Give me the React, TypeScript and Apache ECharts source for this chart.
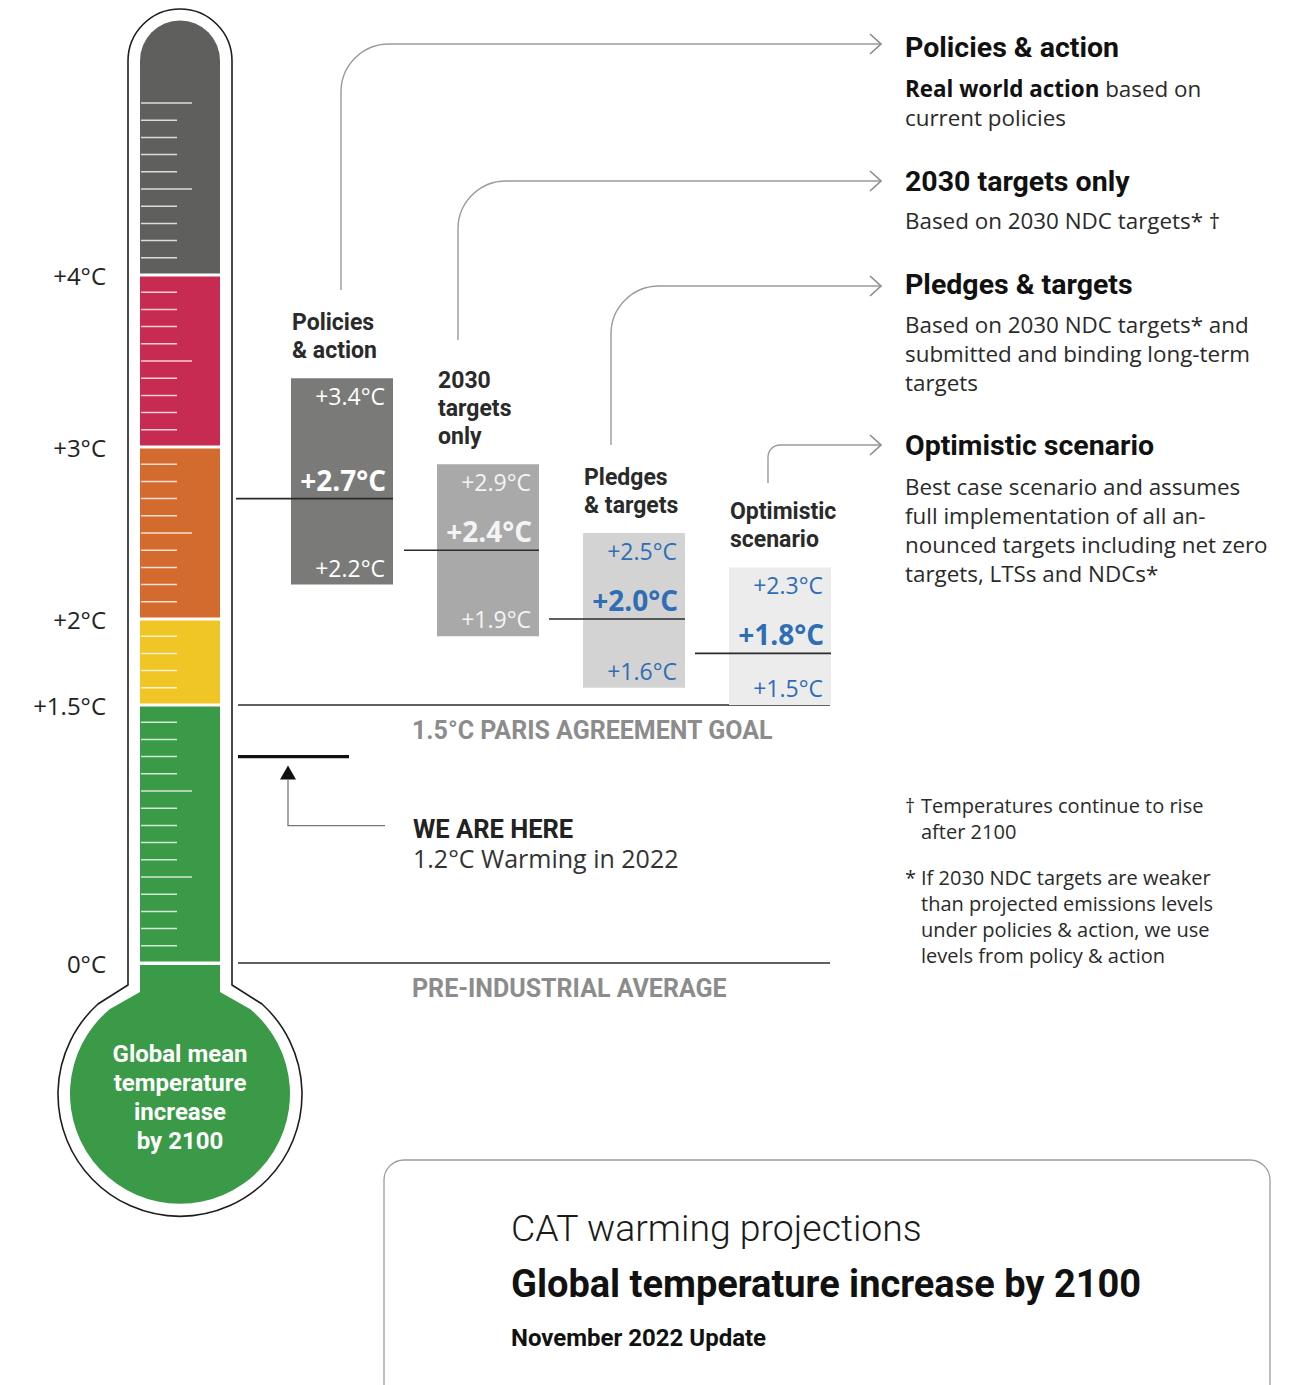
import React, { useEffect, useRef } from "react";
import * as echarts from "echarts";

// ---------------- data ----------------
const scenarioHeadings = ["Policies\n& action", "2030\ntargets\nonly", "Pledges\n& targets", "Optimistic\nscenario"];
const highValues = [3.4, 2.9, 2.5, 2.3];
const medianValues = [2.7, 2.4, 2.0, 1.8];
const lowValues = [2.2, 1.9, 1.6, 1.5];
const zoneLower = [0, 1.5, 2, 3, 4];
const zoneUpper = [1.5, 2, 3, 4, 5.48];
const axisLabelValues = [0, 1.5, 2, 3, 4];
const referenceValues = [1.5, 0];
const referenceLabels = ["1.5°C PARIS AGREEMENT GOAL", "PRE-INDUSTRIAL AVERAGE"];
const currentWarming = [1.2];
const currentYear = 2022;
const legendTitles = ["Policies & action", "2030 targets only", "Pledges & targets", "Optimistic scenario"];
const legendBodies = [
  "{b|Real world action} based on\ncurrent policies",
  "Based on 2030 NDC targets* †",
  "Based on 2030 NDC targets* and\nsubmitted and binding long-term\ntargets",
  "Best case scenario and assumes\nfull implementation of all an-\nnounced targets including net zero\ntargets, LTSs and NDCs*",
];
const footnoteMarks = ["†", "*"];
const footnoteTexts = [
  "Temperatures continue to rise\nafter 2100",
  "If 2030 NDC targets are weaker\nthan projected emissions levels\nunder policies & action, we use\nlevels from policy & action",
];
const bulbText = "Global mean\ntemperature\nincrease\nby 2100";
const titleLines = ["CAT warming projections", "Global temperature increase by 2100", "November 2022 Update"];

// ---------------- layout / style ----------------
const W = 1298;
const H = 1385;
const Y0 = 963;
const PX = 172;
const YMAX = 5.48;
const GRID_TOP = Y0 - YMAX * PX;
const GRID_LEFT = 114;
const BOX_LEFT = [291, 437, 583, 729];
const BOX_W = 102;
const LINE_START = [236, 404, 549, 695];
const BOX_COLORS = ["#7a7a79", "#a9a9a9", "#d3d3d3", "#ececec"];
const BOX_TEXT = ["#ffffff", "#f4f4f4", "#2f6db5", "#2f6db5"];
const ZONE_COLORS = ["#3a9a48", "#efc626", "#d36a2e", "#c72b51", "#5f5f5e"];
const FONT_BODY = "'Open Sans', sans-serif";
const FONT_HEAD = "Roboto, sans-serif";
const DARK = "#222222";

const PATHS: Record<string, string> = {
  thermoOutline: "M128 61 A52 52 0 0 1 232 61 L232 985 L262 1004 A122 122 0 1 1 98 1004 L128 985 Z",
  thermoBulb: "M140 965 L220 965 L220 992 L250 1009 A110 110 0 1 1 110 1009 L140 992 Z",
  conn0: "M341 290 L341 92 A48 48 0 0 1 389 44 L881 44",
  conn1: "M458 340 L458 229 A48 48 0 0 1 506 181 L881 181",
  conn2: "M611 445 L611 334 A48 48 0 0 1 659 286 L881 286",
  conn3: "M768 483 L768 457 A12 12 0 0 1 780 445 L881 445",
};
let registered = false;
function registerShapes() {
  if (registered) return;
  registered = true;
  Object.keys(PATHS).forEach((k) => {
    echarts.graphic.registerShape(k, echarts.graphic.extendPath(PATHS[k], {}) as any);
  });
}

const fmtAxis = (v: number) => (v === 0 ? "0°C" : "+" + v + "°C");
const fmtBox = (v: number) => "+" + v.toFixed(1) + "°C";

function txt(x: number, y: number, text: string, o: any = {}) {
  return {
    type: "text",
    x,
    y,
    silent: true,
    style: {
      text,
      fill: o.fill || DARK,
      fontSize: o.fontSize || 20,
      fontFamily: o.fontFamily || FONT_BODY,
      fontWeight: o.fontWeight || "normal",
      align: o.align || "left",
      textAlign: o.align || "left",
      verticalAlign: o.verticalAlign || "middle",
      textVerticalAlign: o.verticalAlign || "middle",
      lineHeight: o.lineHeight,
      rich: o.rich,
    },
  };
}

export default function App() {
  const ref = useRef<HTMLDivElement>(null);
  useEffect(() => {
    if (!ref.current) return;
    registerShapes();
    const chart = echarts.init(ref.current, undefined, { renderer: "svg" });

    const graphics: any[] = [];
    graphics.push({ type: "thermoOutline", x: 0, y: 0, z: -10, style: { fill: "#fff", stroke: "#1e1e1e", lineWidth: 1.6 } });
    graphics.push({ type: "thermoBulb", x: 0, y: 0, z: -9, style: { fill: ZONE_COLORS[0] } });
    graphics.push(txt(180, 1097, bulbText, { fill: "#fff", fontSize: 24, fontWeight: "bold", fontFamily: FONT_HEAD, align: "center", lineHeight: 29 }));

    // connectors
    const connY = [44, 181, 286, 445];
    ["conn0", "conn1", "conn2", "conn3"].forEach((k, i) => {
      graphics.push({ type: k, x: 0, y: 0, style: { fill: "none", stroke: "#9a9a9a", lineWidth: 1.4 } });
      graphics.push({
        type: "polyline",
        shape: { points: [[870, connY[i] - 10], [881, connY[i]], [870, connY[i] + 10]] },
        style: { fill: "none", stroke: "#8a8a8a", lineWidth: 1.6 },
      });
    });

    // right legend
    const titleY = [47, 181, 284, 445];
    const bodyY = [88, 220, 324, 486];
    legendTitles.forEach((t, i) => {
      graphics.push(txt(905, titleY[i], t, { fontSize: 28.5, fontWeight: "bold", fontFamily: FONT_HEAD, fill: "#111" }));
      graphics.push(
        txt(905, bodyY[i] - 14.5, legendBodies[i], {
          fontSize: 22.4,
          verticalAlign: "top",
          lineHeight: 29,
          fill: "#2a2a2a",
          rich: { b: { fontWeight: "bold", fontSize: 22.4, fontFamily: FONT_BODY, fill: "#111", lineHeight: 29 } },
        })
      );
    });

    // footnotes
    const footY = [805, 877];
    footnoteMarks.forEach((m, i) => {
      graphics.push(txt(905, footY[i] - 13, m, { fontSize: 20, verticalAlign: "top", lineHeight: 26, fill: "#2a2a2a" }));
      graphics.push(txt(921, footY[i] - 13, footnoteTexts[i], { fontSize: 20, verticalAlign: "top", lineHeight: 26, fill: "#2a2a2a" }));
    });

    // bottom title box
    graphics.push({
      type: "rect",
      shape: { x: 384, y: 1160, width: 886, height: 260, r: 20 },
      style: { fill: "#fff", stroke: "#9c9c9c", lineWidth: 1.3 },
    });
    graphics.push(txt(511, 1228, titleLines[0], { fontSize: 37.4, fontFamily: FONT_HEAD, fontWeight: 300, fill: "#1a1a1a" }));
    graphics.push(txt(511, 1284, titleLines[1], { fontSize: 38, fontFamily: FONT_HEAD, fontWeight: "bold", fill: "#111" }));
    graphics.push(txt(511, 1338, titleLines[2], { fontSize: 24, fontFamily: FONT_HEAD, fontWeight: "bold", fill: "#111" }));

    const option: any = {
      animation: false,
      backgroundColor: "#ffffff",
      grid: { left: GRID_LEFT, right: 0, top: GRID_TOP, bottom: H - Y0, containLabel: false },
      xAxis: { type: "value", min: GRID_LEFT, max: W, show: false },
      yAxis: {
        type: "value",
        min: 0,
        max: YMAX,
        interval: 0.5,
        axisLine: { show: false },
        axisTick: { show: false },
        splitLine: { show: false },
        axisLabel: {
          showMaxLabel: false,
          margin: 8,
          color: DARK,
          fontSize: 24,
          fontFamily: FONT_BODY,
          formatter: (v: number) => (axisLabelValues.some((a) => Math.abs(a - v) < 1e-6) ? fmtAxis(v) : ""),
        },
      },
      graphic: graphics,
      series: [
        {
          type: "custom",
          name: "thermometer",
          coordinateSystem: "cartesian2d",
          clip: false,
          z: 3,
          data: zoneLower.map((lo, i) => [lo, zoneUpper[i]]),
          renderItem: (params: any, api: any) => {
            const i = params.dataIndex;
            const lo = api.value(0);
            const hi = api.value(1);
            const yTop = api.coord([140, hi])[1];
            const yBot = api.coord([140, lo])[1];
            const isTop = i === zoneLower.length - 1;
            const top = isTop ? yTop : yTop + 1.5;
            const children: any[] = [
              {
                type: "rect",
                shape: { x: 140, y: top, width: 80, height: yBot - 1.5 - top, r: isTop ? [40, 40, 0, 0] : 0 },
                style: { fill: ZONE_COLORS[i] },
              },
            ];
            const kFrom = Math.round(lo * 10) + 1;
            const kTo = Math.min(Math.round(hi * 10) - 1, 50);
            for (let k = kFrom; k <= kTo; k++) {
              const y = api.coord([140, k / 10])[1];
              children.push({
                type: "line",
                shape: { x1: 141, y1: y, x2: k % 5 === 0 ? 192 : 177, y2: y },
                style: { stroke: "rgba(255,255,255,0.78)", lineWidth: 1.5 },
              });
            }
            return { type: "group", children };
          },
        },
        {
          type: "custom",
          name: "references",
          coordinateSystem: "cartesian2d",
          clip: false,
          z: 3,
          data: referenceValues.map((v) => [GRID_LEFT, v]),
          renderItem: (params: any, api: any) => {
            const i = params.dataIndex;
            const y = api.coord([238, api.value(1)])[1];
            return {
              type: "group",
              children: [
                { type: "line", shape: { x1: 238, y1: y, x2: 830, y2: y }, style: { stroke: "#2b2b2b", lineWidth: 1.6 } },
                txt(412, y + 25, referenceLabels[i], { fontSize: 25, fontWeight: "bold", fontFamily: FONT_HEAD, fill: "#8c8c8c" }),
              ],
            };
          },
        },
        {
          type: "custom",
          name: "current",
          coordinateSystem: "cartesian2d",
          clip: false,
          z: 3,
          data: currentWarming.map((v) => [GRID_LEFT, v]),
          renderItem: (params: any, api: any) => {
            const v = api.value(1);
            const y = api.coord([238, v])[1];
            return {
              type: "group",
              children: [
                { type: "line", shape: { x1: 238, y1: y, x2: 349, y2: y }, style: { stroke: "#111", lineWidth: 3.2 } },
                { type: "polygon", shape: { points: [[288, y + 9], [280, y + 23], [296, y + 23]] }, style: { fill: "#111" } },
                {
                  type: "polyline",
                  shape: { points: [[288, y + 23], [288, y + 69], [385, y + 69]] },
                  style: { fill: "none", stroke: "#777", lineWidth: 1.3 },
                },
                txt(413, y + 72, "WE ARE HERE", { fontSize: 25.5, fontWeight: "bold", fontFamily: FONT_HEAD, fill: "#222" }),
                txt(413, y + 101, v.toFixed(1) + "°C Warming in " + currentYear, { fontSize: 25, fill: "#333" }),
              ],
            };
          },
        },
        {
          type: "custom",
          name: "scenarios",
          coordinateSystem: "cartesian2d",
          clip: false,
          z: 4,
          data: scenarioHeadings.map((h, i) => [i, lowValues[i], medianValues[i], highValues[i]]),
          encode: { x: 0, y: [1, 2, 3] },
          renderItem: (params: any, api: any) => {
            const i = params.dataIndex;
            const lo = api.value(1);
            const med = api.value(2);
            const hi = api.value(3);
            const left = BOX_LEFT[i];
            const right = left + BOX_W;
            const yHi = api.coord([left, hi])[1];
            const yLo = api.coord([left, lo])[1];
            const yMed = api.coord([left, med])[1];
            const tc = BOX_TEXT[i];
            return {
              type: "group",
              children: [
                { type: "rect", shape: { x: left, y: yHi, width: BOX_W, height: yLo - yHi }, style: { fill: BOX_COLORS[i] } },
                { type: "line", shape: { x1: LINE_START[i], y1: yMed, x2: right, y2: yMed }, style: { stroke: "#2b2b2b", lineWidth: 1.6 } },
                txt(right - 8, yHi + 18, fmtBox(hi), { fill: tc, fontSize: 23, align: "right" }),
                txt(right - 7, yMed - 19, fmtBox(med), { fill: tc, fontSize: 28, fontWeight: "bold", align: "right" }),
                txt(right - 8, yLo - 17, fmtBox(lo), { fill: tc, fontSize: 23, align: "right" }),
                txt(left + 1, yHi - 14, scenarioHeadings[i], {
                  fontSize: 23,
                  fontWeight: "bold",
                  fontFamily: FONT_HEAD,
                  verticalAlign: "bottom",
                  lineHeight: 28,
                  fill: "#2a2a2a",
                }),
              ],
            };
          },
        },
      ],
    };
    chart.setOption(option);
    return () => chart.dispose();
  }, []);

  return (
    <div
      ref={ref}
      style={{ position: "absolute", left: 0, top: 0, width: W, height: H, background: "#fff" }}
    />
  );
}
